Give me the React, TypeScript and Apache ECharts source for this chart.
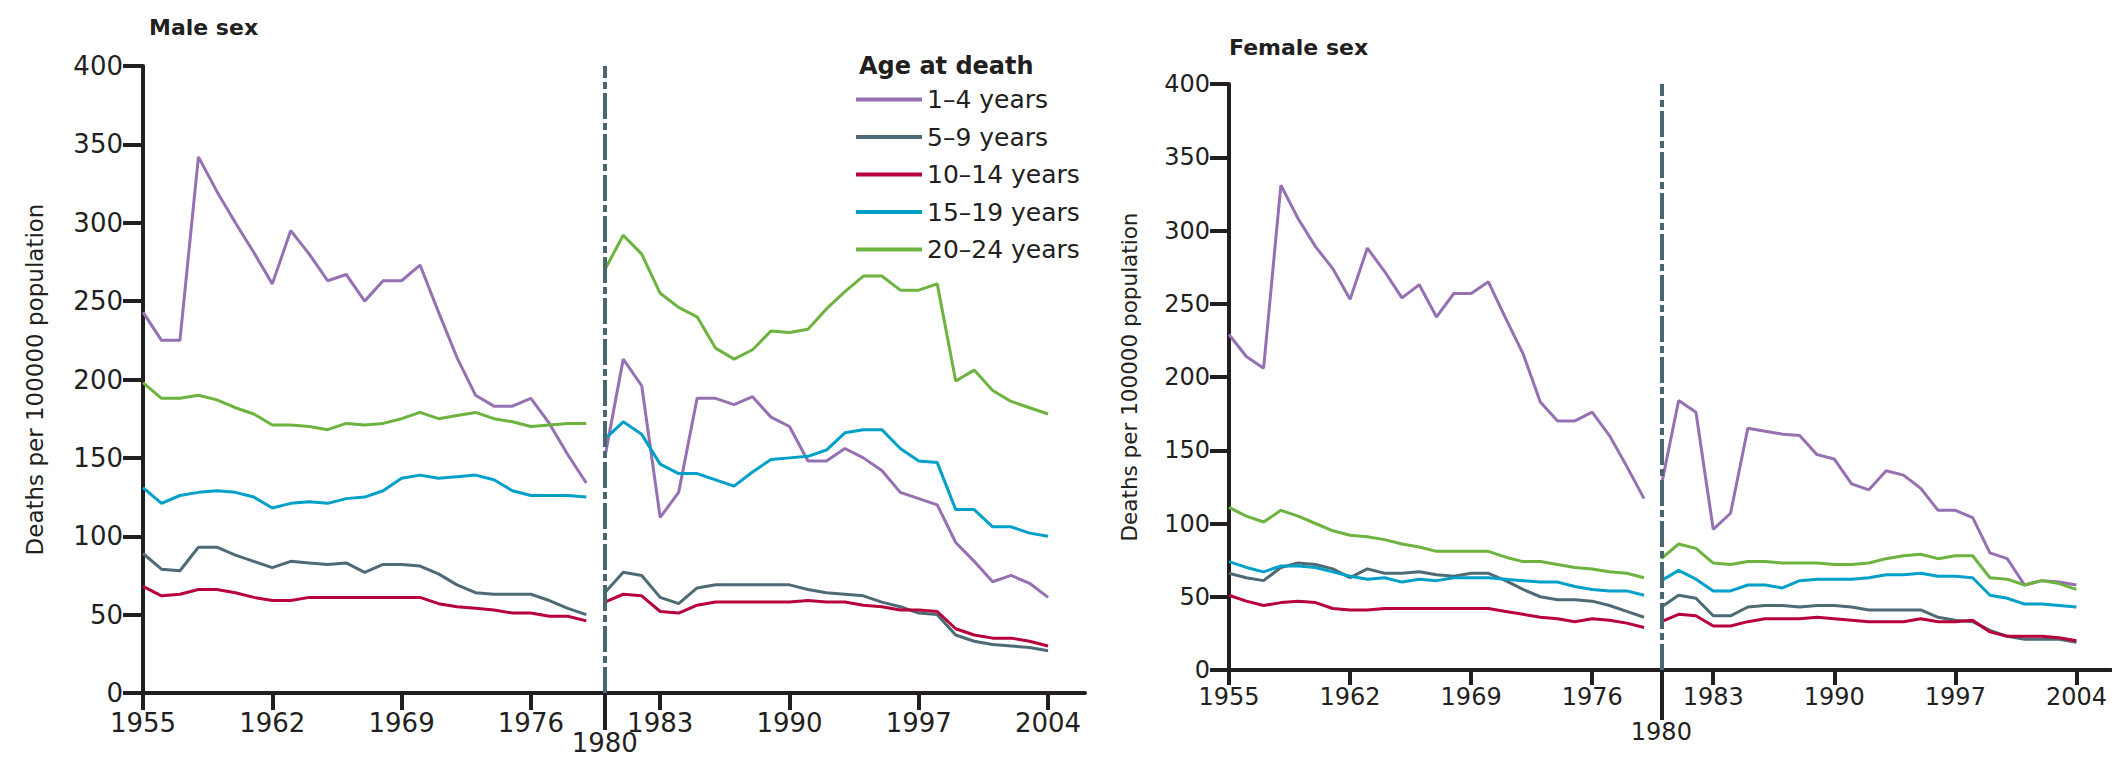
import React, { useEffect, useRef } from 'react';
import * as echarts from 'echarts';

// ---------- data ----------
const yearsBefore = [1955, 1956, 1957, 1958, 1959, 1960, 1961, 1962, 1963, 1964, 1965, 1966, 1967, 1968, 1969, 1970, 1971, 1972, 1973, 1974, 1975, 1976, 1977, 1978, 1979];
const yearsAfter = [1980, 1981, 1982, 1983, 1984, 1985, 1986, 1987, 1988, 1989, 1990, 1991, 1992, 1993, 1994, 1995, 1996, 1997, 1998, 1999, 2000, 2001, 2002, 2003, 2004];
const breakYear = 1980;
const xTickYears = [1955, 1962, 1969, 1976, 1983, 1990, 1997, 2004];

const ageGroups = ['1–4 years', '5–9 years', '10–14 years', '15–19 years', '20–24 years'];

// Male sex
const male1to4Before = [243, 225, 225, 342, 320, 300, 281, 261, 295, 280, 263, 267, 250, 263, 263, 273, 243, 214, 190, 183, 183, 188, 172, 152, 134];
const male1to4After = [150, 213, 196, 112, 128, 188, 188, 184, 189, 176, 170, 148, 148, 156, 150, 142, 128, 124, 120, 96, 84, 71, 75, 70, 61];
const male5to9Before = [89, 79, 78, 93, 93, 88, 84, 80, 84, 83, 82, 83, 77, 82, 82, 81, 76, 69, 64, 63, 63, 63, 59, 54, 50];
const male5to9After = [64, 77, 75, 61, 57, 67, 69, 69, 69, 69, 69, 66, 64, 63, 62, 58, 55, 51, 50, 37, 33, 31, 30, 29, 27];
const male10to14Before = [68, 62, 63, 66, 66, 64, 61, 59, 59, 61, 61, 61, 61, 61, 61, 61, 57, 55, 54, 53, 51, 51, 49, 49, 46];
const male10to14After = [58, 63, 62, 52, 51, 56, 58, 58, 58, 58, 58, 59, 58, 58, 56, 55, 53, 53, 52, 41, 37, 35, 35, 33, 30];
const male15to19Before = [131, 121, 126, 128, 129, 128, 125, 118, 121, 122, 121, 124, 125, 129, 137, 139, 137, 138, 139, 136, 129, 126, 126, 126, 125];
const male15to19After = [162, 173, 165, 146, 140, 140, 136, 132, 141, 149, 150, 151, 155, 166, 168, 168, 156, 148, 147, 117, 117, 106, 106, 102, 100];
const male20to24Before = [198, 188, 188, 190, 187, 182, 178, 171, 171, 170, 168, 172, 171, 172, 175, 179, 175, 177, 179, 175, 173, 170, 171, 172, 172];
const male20to24After = [270, 292, 280, 255, 246, 240, 220, 213, 219, 231, 230, 232, 245, 256, 266, 266, 257, 257, 261, 199, 206, 193, 186, 182, 178];

// Female sex
const female1to4Before = [229, 214, 206, 331, 308, 289, 274, 253, 288, 272, 254, 263, 241, 257, 257, 265, 240, 216, 183, 170, 170, 176, 160, 139, 117];
const female1to4After = [126, 184, 176, 96, 107, 165, 163, 161, 160, 147, 144, 127, 123, 136, 133, 124, 109, 109, 104, 80, 76, 58, 61, 60, 58];
const female5to9Before = [66, 63, 61, 70, 73, 72, 69, 63, 69, 66, 66, 67, 65, 64, 66, 66, 61, 55, 50, 48, 48, 47, 44, 40, 36];
const female5to9After = [43, 51, 49, 37, 37, 43, 44, 44, 43, 44, 44, 43, 41, 41, 41, 41, 36, 34, 33, 27, 23, 21, 21, 21, 19];
const female10to14Before = [51, 47, 44, 46, 47, 46, 42, 41, 41, 42, 42, 42, 42, 42, 42, 42, 40, 38, 36, 35, 33, 35, 34, 32, 29];
const female10to14After = [33, 38, 37, 30, 30, 33, 35, 35, 35, 36, 35, 34, 33, 33, 33, 35, 33, 33, 34, 26, 23, 23, 23, 22, 20];
const female15to19Before = [74, 70, 67, 71, 71, 70, 67, 64, 62, 63, 60, 62, 61, 63, 63, 63, 62, 61, 60, 60, 57, 55, 54, 54, 51];
const female15to19After = [61, 68, 62, 54, 54, 58, 58, 56, 61, 62, 62, 62, 63, 65, 65, 66, 64, 64, 63, 51, 49, 45, 45, 44, 43];
const female20to24Before = [111, 105, 101, 109, 105, 100, 95, 92, 91, 89, 86, 84, 81, 81, 81, 81, 77, 74, 74, 72, 70, 69, 67, 66, 63];
const female20to24After = [76, 86, 83, 73, 72, 74, 74, 73, 73, 73, 72, 72, 73, 76, 78, 79, 76, 78, 78, 63, 62, 58, 61, 59, 55];

const maleBefore = [male1to4Before, male5to9Before, male10to14Before, male15to19Before, male20to24Before];
const maleAfter = [male1to4After, male5to9After, male10to14After, male15to19After, male20to24After];
const femaleBefore = [female1to4Before, female5to9Before, female10to14Before, female15to19Before, female20to24Before];
const femaleAfter = [female1to4After, female5to9After, female10to14After, female15to19After, female20to24After];

// ---------- styles / layout ----------
const FONT = 'DejaVu Sans';
const INK = '#231f20';
const DASH_COLOR = '#4a6670';
const groupColors = ['#9670b3', '#4e6b75', '#b8003a', '#00a0c8', '#6cb33f'];

const panels = [
  {
    title: 'Male sex', titleLeft: 149, titleTop: 16, titleSize: 22,
    left: 143, top: 66, width: 942, height: 627,
    tickFont: 26, nameFont: 23, nameGap: 97,
    yTickLen: 20, yLabelMargin: 20,
    xTickLen: 17, xLabelMargin: 17,
    breakTickLen: 37, breakLabelMargin: 37,
    before: maleBefore, after: maleAfter,
  },
  {
    title: 'Female sex', titleLeft: 1229, titleTop: 36, titleSize: 22,
    left: 1229, top: 84, width: 882, height: 586,
    tickFont: 24, nameFont: 21.5, nameGap: 89,
    yTickLen: 19, yLabelMargin: 19,
    xTickLen: 15, xLabelMargin: 15,
    breakTickLen: 50, breakLabelMargin: 50,
    before: femaleBefore, after: femaleAfter,
  },
];

const pairs = (years: number[], vals: number[]) => years.map((y, i) => [y, vals[i]]);
const plain = (v: number) => String(v);

function buildOption() {
  const grid: any[] = [];
  const xAxis: any[] = [];
  const yAxis: any[] = [];
  const series: any[] = [];
  const title: any[] = [];

  panels.forEach((p, g) => {
    grid.push({ left: p.left, top: p.top, width: p.width, height: p.height, containLabel: false, outerBoundsMode: 'none' });
    title.push({
      text: p.title, left: p.titleLeft, top: p.titleTop, padding: 0,
      textStyle: { fontFamily: FONT, fontSize: p.titleSize, fontWeight: 'bold', color: INK },
    });
    const labelStyle = { fontFamily: FONT, fontSize: p.tickFont, color: INK };
    xAxis.push({
      type: 'value', gridIndex: g, min: 1955, max: 2006, position: 'bottom',
      axisLine: { show: true, onZero: false, lineStyle: { color: INK, width: 4 } },
      axisTick: { show: true, customValues: xTickYears, length: p.xTickLen, lineStyle: { color: INK, width: 4 } },
      axisLabel: { show: true, customValues: xTickYears, margin: p.xLabelMargin, formatter: plain, ...labelStyle },
      splitLine: { show: false },
    });
    xAxis.push({
      type: 'value', gridIndex: g, min: 1955, max: 2006, position: 'bottom',
      axisLine: { show: false },
      axisTick: { show: true, customValues: [breakYear], length: p.breakTickLen, lineStyle: { color: INK, width: 4 } },
      axisLabel: { show: true, customValues: [breakYear], margin: p.breakLabelMargin, formatter: plain, ...labelStyle },
      splitLine: { show: false },
    });
    yAxis.push({
      type: 'value', gridIndex: g, min: 0, max: 400, interval: 50,
      axisLine: { show: true, onZero: false, lineStyle: { color: INK, width: 4 } },
      axisTick: { show: true, length: p.yTickLen, lineStyle: { color: INK, width: 4 } },
      axisLabel: { margin: p.yLabelMargin, formatter: plain, ...labelStyle },
      splitLine: { show: false },
      name: 'Deaths per 100000 population', nameLocation: 'middle', nameRotate: 90, nameGap: p.nameGap,
      nameTextStyle: { fontFamily: FONT, fontSize: p.nameFont, color: INK },
    });

    ageGroups.forEach((name, k) => {
      const common = {
        type: 'line', name, xAxisIndex: 2 * g, yAxisIndex: g, symbol: 'none', showSymbol: false,
        lineStyle: { color: groupColors[k], width: 3 }, itemStyle: { color: groupColors[k] },
        animation: false, z: 3,
      };
      const s1: any = { ...common, data: pairs(yearsBefore, p.before[k]) };
      if (k === 0) {
        s1.markLine = {
          silent: true, symbol: ['none', 'none'], label: { show: false }, animation: false,
          lineStyle: { color: DASH_COLOR, width: 4, type: [26, 4, 7, 4] },
          data: [{ xAxis: breakYear }],
        };
      }
      series.push(s1);
      series.push({ ...common, data: pairs(yearsAfter, p.after[k]) });
    });
  });

  title.push({
    text: 'Age at death', left: 859, top: 54, padding: 0,
    textStyle: { fontFamily: FONT, fontSize: 24, fontWeight: 'bold', color: INK },
  });

  return {
    animation: false,
    backgroundColor: '#ffffff',
    title,
    grid,
    xAxis,
    yAxis,
    legend: {
      data: ageGroups.map((name, k) => ({ name, icon: 'rect', itemStyle: { color: groupColors[k] } })),
      orient: 'vertical', left: 856, top: 87, padding: 0,
      itemWidth: 66, itemHeight: 4, itemGap: 12.5, selectedMode: false,
      textStyle: { fontFamily: FONT, fontSize: 25, color: INK },
    },
    series,
  };
}

export default function App() {
  const ref = useRef<HTMLDivElement>(null);
  useEffect(() => {
    if (!ref.current) return;
    const chart = echarts.init(ref.current, null, { renderer: 'svg' });
    chart.setOption(buildOption() as any);
    return () => chart.dispose();
  }, []);
  return (
    <div
      ref={ref}
      style={{ position: 'absolute', left: 0, top: 0, width: 2112, height: 763, background: '#fff' }}
    />
  );
}
